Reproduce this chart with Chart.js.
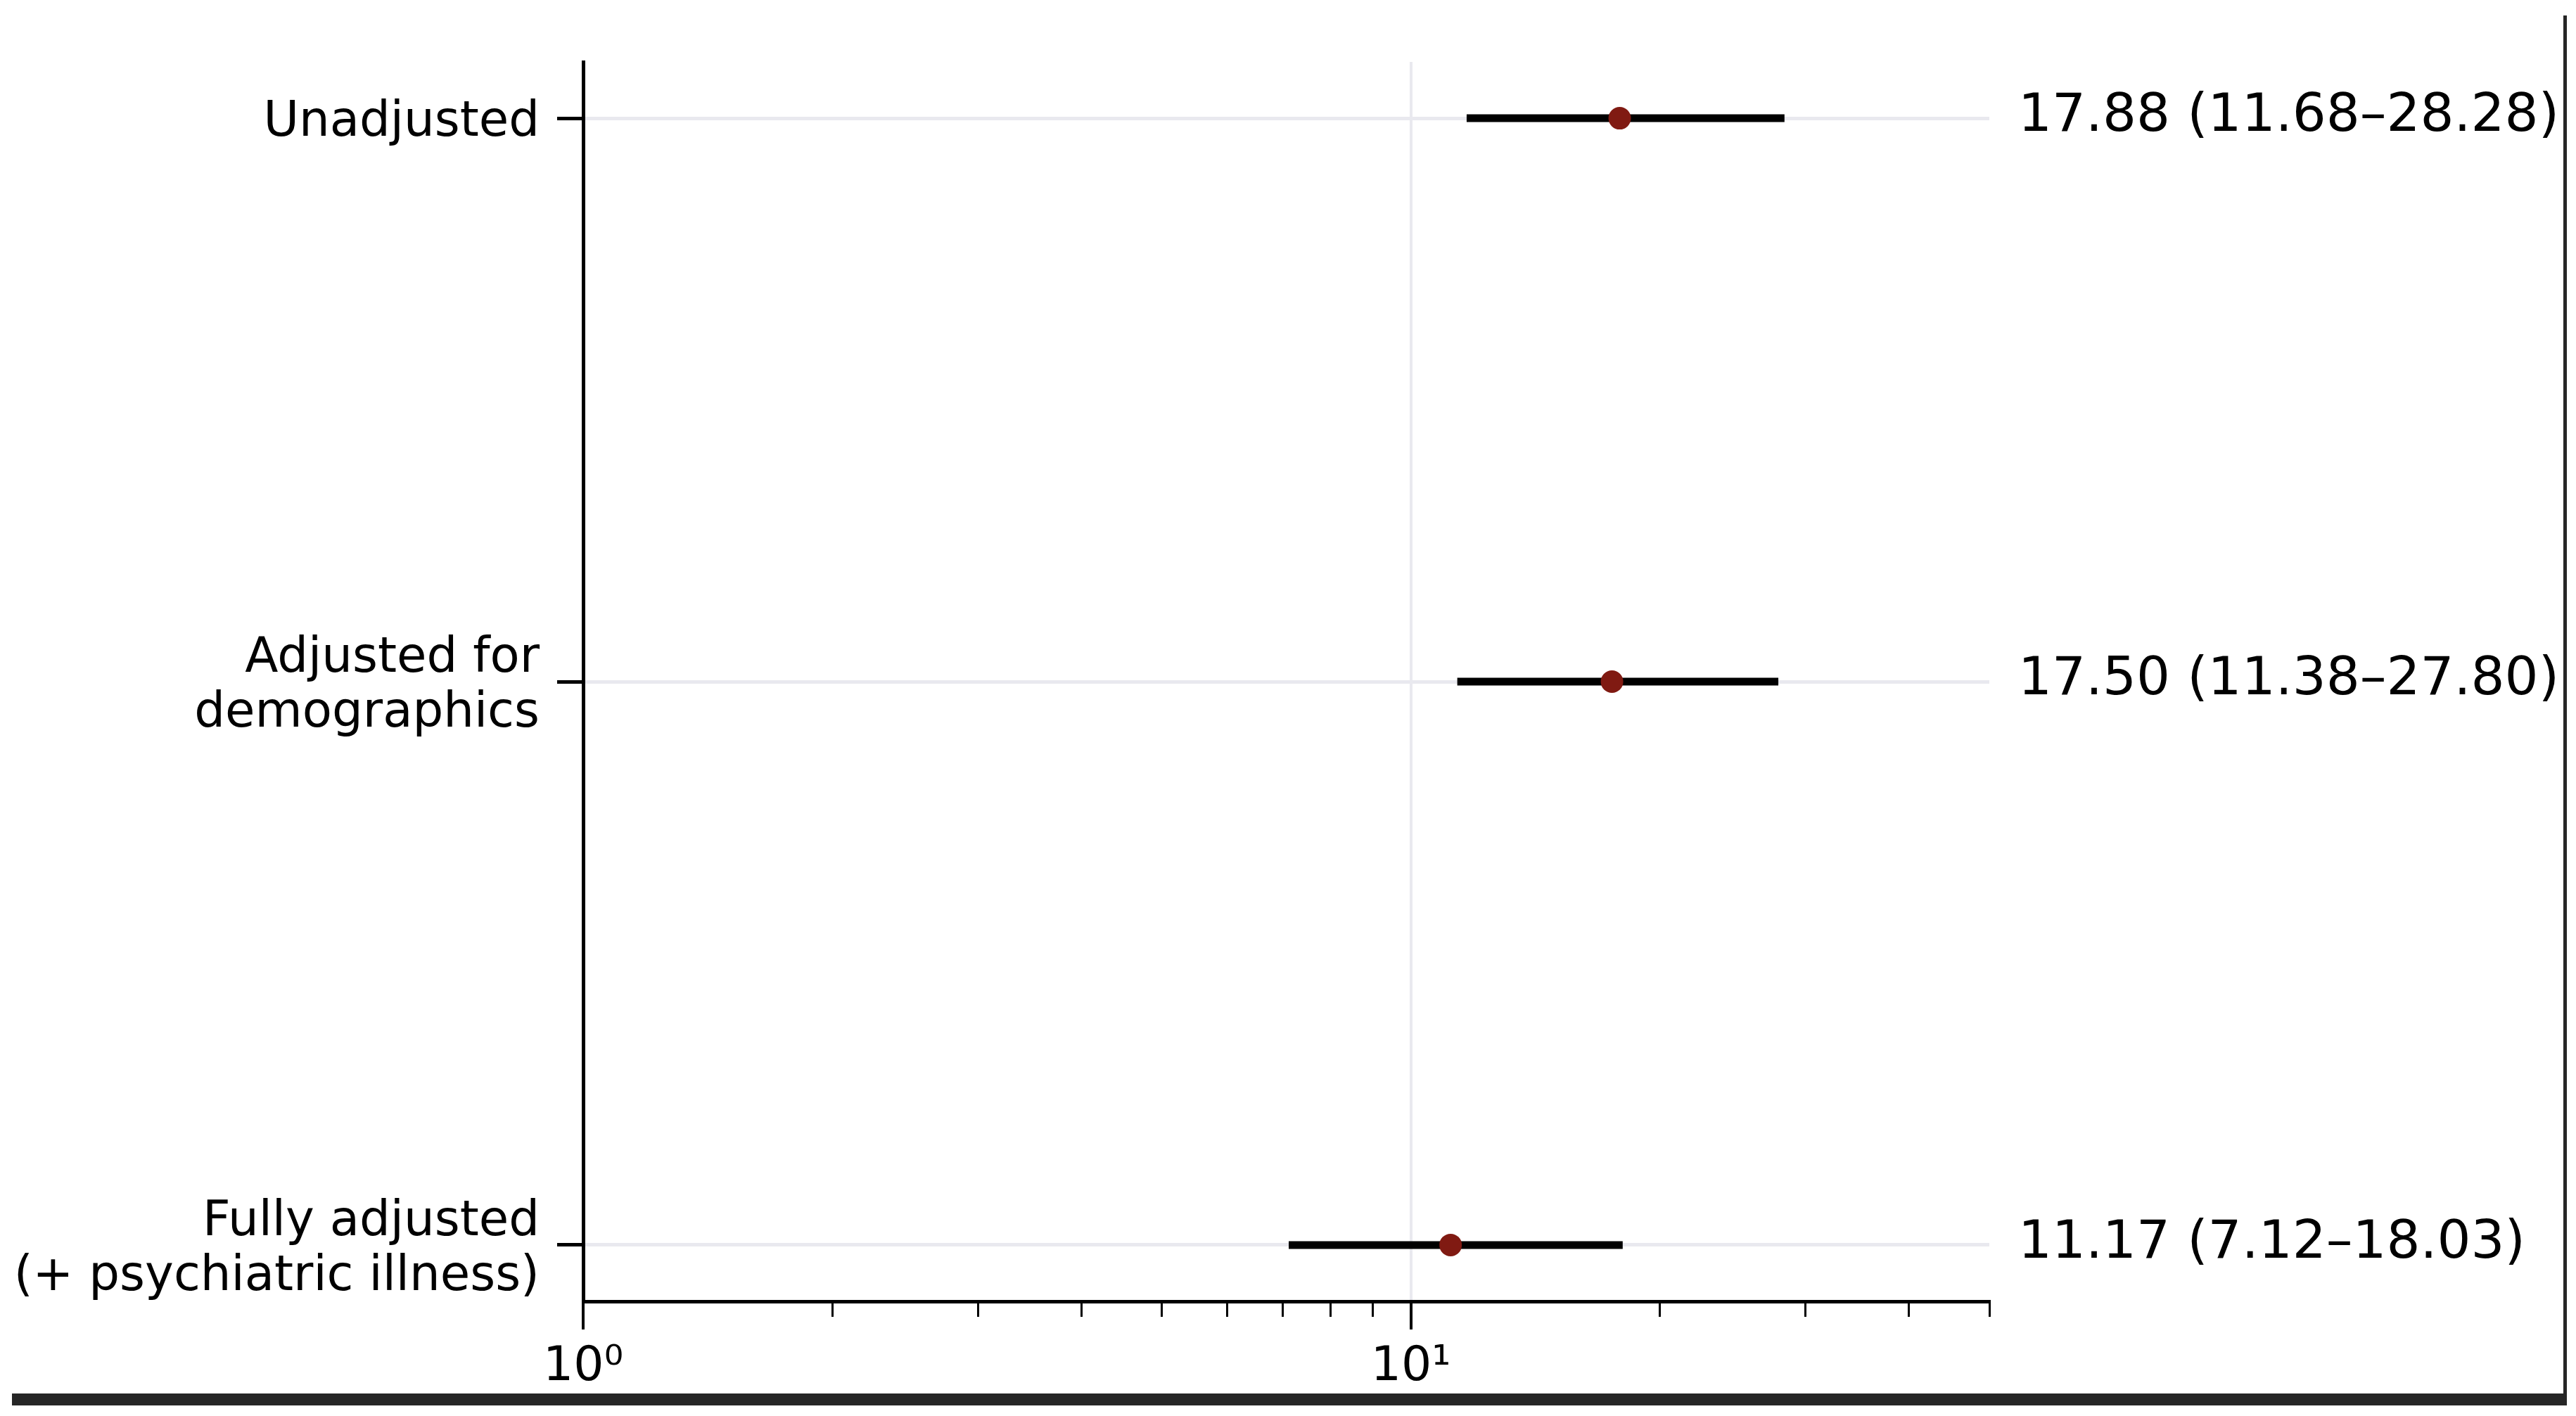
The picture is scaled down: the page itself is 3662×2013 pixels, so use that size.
<!DOCTYPE html>
<html>
<head>
<meta charset="utf-8">
<script src="https://cdn.jsdelivr.net/npm/chart.js@4.4.1/dist/chart.umd.min.js"></script>
<style>
  body { margin: 0; background: #fff; }
  #wrap { position: relative; width: 3662px; height: 2013px; overflow: hidden; }
  #frame-right { position: absolute; left: 3644px; top: 22px; width: 5px; height: 1976px; background: #262626; }
  #frame-bottom { position: absolute; left: 17px; top: 1981px; width: 3632px; height: 17px; background: #262626; }
</style>
</head>
<body>
<div id="wrap">
  <canvas id="forest-chart" width="3662" height="2013"></canvas>
  <div id="frame-right"></div>
  <div id="frame-bottom"></div>
</div>
<script>
// rows of the forest plot, top to bottom
const rowLabels = [
    ['Unadjusted'],
    ['Adjusted for', 'demographics'],
    ['Fully adjusted', '(+ psychiatric illness)']
];
const oddsRatio = [17.88, 17.50, 11.17];
const ciLow = [11.68, 11.38, 7.12];
const ciHigh = [28.28, 27.80, 18.03];

// x axis ticks (log scale)
const xMajorTicks = [1, 10];
const xMajorLabels = ['10⁰', '10¹'];
const xMinorTicks = [2, 3, 4, 5, 6, 7, 8, 9, 20, 30, 40, 50];

const fontFamily = "'DejaVu Sans', sans-serif";
const gridGrey = '#e9e9ef';

// point dataset first so it's drawn on top of the CI bars
const datasets = [{
    label: 'OR',
    data: oddsRatio.map((v, i) => ({ x: v, y: i })),
    pointRadius: 16,
    pointBackgroundColor: '#801a12',
    pointBorderWidth: 0,
    showLine: false
}];

for (let i = 0; i < rowLabels.length; i++) {
    datasets.push({
        label: 'CI ' + i,
        data: [{ x: ciLow[i], y: i }, { x: ciHigh[i], y: i }],
        borderColor: '#000',
        borderWidth: 11,
        pointRadius: 0,
        showLine: true
    });
}

// text to the right of the plot: "OR (low–high)"
const rightLabels = {
    id: 'rightLabels',
    afterDraw(chart) {
        const ctx = chart.ctx;
        const yScale = chart.scales.y;
        const x = chart.chartArea.right + 41;
        ctx.save();
        ctx.font = '75.5px ' + fontFamily;
        ctx.fillStyle = '#000';
        ctx.textAlign = 'left';
        ctx.textBaseline = 'middle';
        for (let i = 0; i < oddsRatio.length; i++) {
            const txt = oddsRatio[i].toFixed(2) + ' (' + ciLow[i].toFixed(2) + '–' + ciHigh[i].toFixed(2) + ')';
            ctx.fillText(txt, x, yScale.getPixelForValue(i) - 2);
        }
        ctx.restore();
    }
};

// keep label overflow from pushing the plot area around
const noLabelPadding = (scale) => {
    scale.paddingTop = 0;
    scale.paddingBottom = 0;
    scale.paddingLeft = 0;
    scale.paddingRight = 0;
};

const forestChart = new Chart(document.querySelector('#forest-chart').getContext('2d'), {
    type: 'scatter',
    data: { datasets: datasets },
    plugins: [rightLabels],
    options: {
        responsive: false,
        animation: false,
        layout: { padding: { top: 88, right: 834, left: 0, bottom: 0 } },
        plugins: {
            legend: { display: false },
            tooltip: { enabled: false }
        },
        scales: {
            y: {
                type: 'linear',
                position: 'left',
                min: -0.1,
                max: 2.1,
                reverse: true,
                afterBuildTicks: (scale) => {
                    scale.ticks = rowLabels.map((l, i) => ({ value: i }));
                },
                afterFit: (scale) => {
                    scale.width = 829;
                    noLabelPadding(scale);
                },
                ticks: {
                    callback: (value) => rowLabels[value],
                    font: { family: fontFamily, size: 69, lineHeight: 1.14 },
                    color: '#000',
                    padding: 25,
                    labelOffset: 7
                },
                grid: {
                    color: gridGrey,
                    lineWidth: 5,
                    tickLength: 37,
                    tickColor: '#000',
                    tickWidth: 5
                },
                border: { color: '#000', width: 5 }
            },
            x: {
                type: 'logarithmic',
                position: 'bottom',
                weight: 1,
                min: 1,
                max: 50,
                afterBuildTicks: (scale) => {
                    scale.ticks = xMajorTicks.map(v => ({ value: v, major: true }));
                },
                afterFit: (scale) => {
                    scale.height = 163;
                    noLabelPadding(scale);
                },
                ticks: {
                    callback: (value) => xMajorLabels[xMajorTicks.indexOf(value)],
                    font: { family: fontFamily, size: 68 },
                    color: '#000',
                    padding: 14,
                    maxRotation: 0,
                    autoSkip: false
                },
                grid: {
                    color: (ctx) => (ctx.tick && ctx.tick.value === 1) ? 'rgba(0,0,0,0)' : gridGrey,
                    lineWidth: 4,
                    tickLength: 40,
                    tickColor: '#000',
                    tickWidth: 4
                },
                border: { color: '#000', width: 5 }
            },
            xMinor: {
                type: 'logarithmic',
                position: 'bottom',
                weight: 0,
                min: 1,
                max: 50,
                afterBuildTicks: (scale) => {
                    scale.ticks = xMinorTicks.map(v => ({ value: v }));
                },
                afterFit: (scale) => {
                    scale.height = 0;
                    noLabelPadding(scale);
                },
                ticks: { display: false },
                grid: {
                    drawOnChartArea: false,
                    tickLength: 22,
                    tickColor: '#000',
                    tickWidth: 3
                },
                border: { display: false }
            }
        }
    }
});
</script>
</body>
</html>
